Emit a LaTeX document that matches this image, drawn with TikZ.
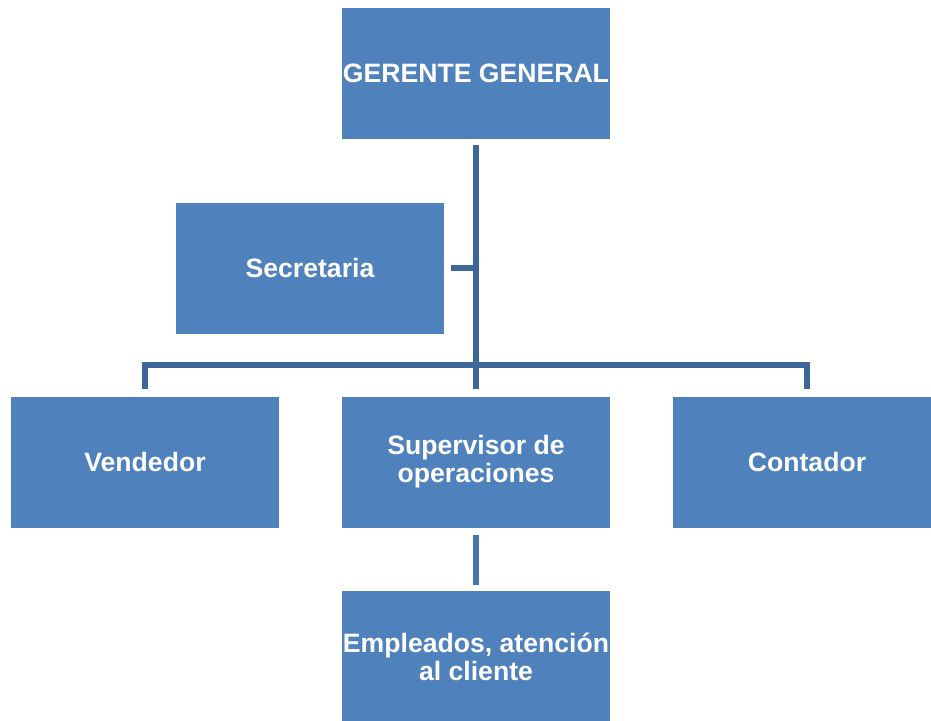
\documentclass[tikz,border=0pt]{standalone}
\usepackage{fontspec}
\setmainfont{Liberation Sans}
\definecolor{boxblue}{HTML}{4F81BD}
\definecolor{linedark}{HTML}{3F6698}
\definecolor{linelight}{HTML}{4874AC}
\begin{document}
\begin{tikzpicture}[x=1pt,y=-1pt,
  orgbox/.style={rectangle,fill=boxblue,draw=none,minimum width=268pt,minimum height=131pt,
    inner sep=0pt,align=center,text=white,font=\fontsize{26.6}{28}\selectfont\bfseries},
  conn/.style={draw=linedark,line width=6pt,line cap=butt,line join=miter},
  conn2/.style={draw=linelight,line width=6pt,line cap=butt}]
\useasboundingbox (0,0) rectangle (931,720);
\node[orgbox] (g) at (476,73.5) {GERENTE GENERAL};
\node[orgbox] (sec) at (310,268) {Secretaria};
\node[orgbox] (v) at (145,462) {Vendedor};
\node[orgbox] (sup) at (476,462) {Supervisor de\\operaciones};
\node[orgbox] (c) at (807,462) {Contador};
\node[orgbox] (e) at (476,656.5) {Empleados, atención\\al cliente};
\coordinate (bus) at (476,365);
\draw[conn] ([yshift=-6pt]g.south) -- ([yshift=7pt]sup.north);
\draw[conn] ([xshift=7pt]sec.east) -- (sec.east -| g.south);
\draw[conn] ([yshift=7pt]v.north) |- (bus) -| ([yshift=7pt]c.north);
\draw[conn2] ([yshift=-7pt]sup.south) -- ([yshift=6pt]e.north);
\end{tikzpicture}
\end{document}
